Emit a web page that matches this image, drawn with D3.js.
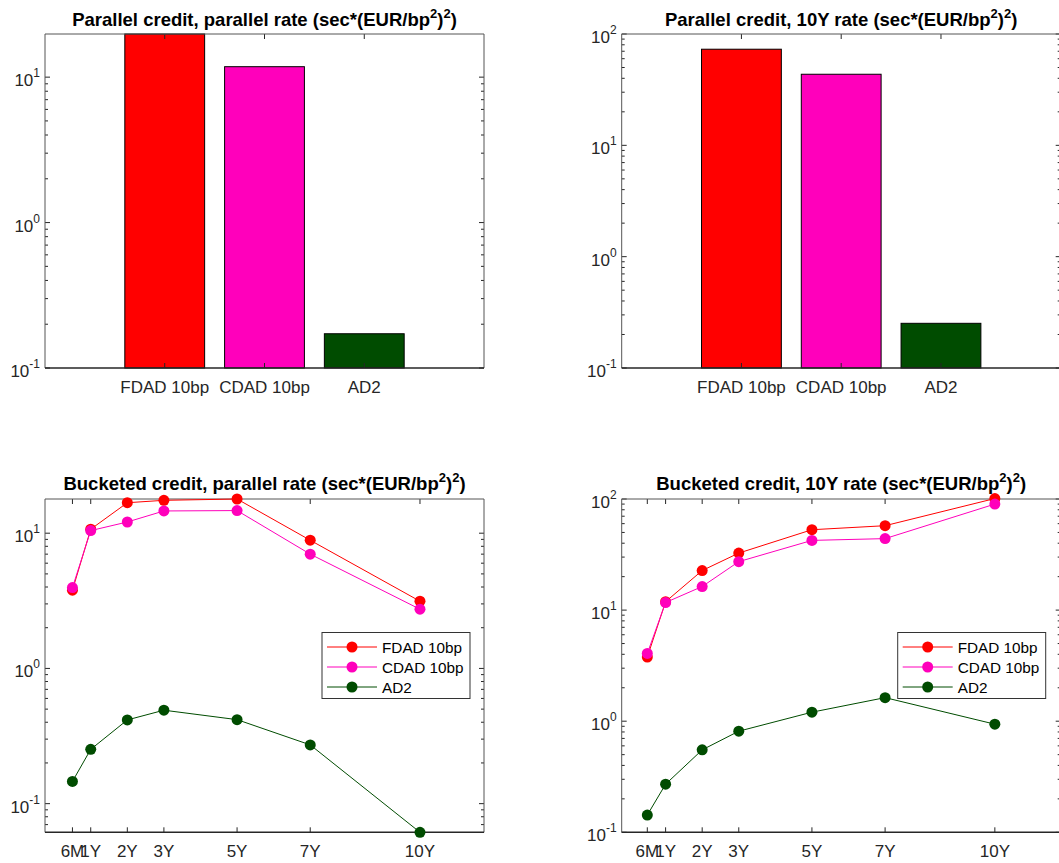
<!DOCTYPE html>
<html><head><meta charset="utf-8">
<script src="https://cdn.jsdelivr.net/npm/d3@7"></script>
<style>html,body{margin:0;padding:0;background:#fff;overflow:hidden}</style>
</head><body>
<svg id="chart" width="1059" height="863"></svg>
<script>
// ---------- data ----------
const barCategories = ["FDAD 10bp", "CDAD 10bp", "AD2"];
const barParallelRate = [19.8, 11.8, 0.172];
const bar10YRate = [73, 43.5, 0.252];

const tenors = [0.5, 1, 2, 3, 5, 7, 10];
const tenorLabels = ["6M", "1Y", "2Y", "3Y", "5Y", "7Y", "10Y"];
const seriesNames = ["FDAD 10bp", "CDAD 10bp", "AD2"];
const seriesColors = ["#ff0000", "#ff00bb", "#004c00"];

const bucketParallelFDAD = [3.79, 10.7, 16.8, 17.5, 17.9, 8.87, 3.14];
const bucketParallelCDAD = [3.96, 10.45, 12.1, 14.6, 14.7, 7.0, 2.74];
const bucketParallelAD2  = [0.146, 0.252, 0.416, 0.491, 0.418, 0.272, 0.0614];

const bucket10YFDAD = [3.78, 11.9, 22.7, 32.6, 52.9, 57.5, 101];
const bucket10YCDAD = [4.07, 11.7, 16.3, 27.3, 42.4, 44.0, 90];
const bucket10YAD2  = [0.143, 0.271, 0.552, 0.813, 1.205, 1.63, 0.94];

const titles = ["Parallel credit, parallel rate", "Parallel credit, 10Y rate",
                "Bucketed credit, parallel rate", "Bucketed credit, 10Y rate"];

// ---------- drawing ----------
const FONT = "'Liberation Sans', Arial, Helvetica, sans-serif";
const AXC = "#262626";
const svg = d3.select("#chart").style("font-family", FONT);

function title(g, cx, y, txt) {
  const t = g.append("text").attr("x", cx).attr("y", y).attr("text-anchor", "middle")
    .attr("font-weight", "bold").attr("font-size", 18.5).attr("fill", "#000");
  t.append("tspan").text(txt + " (sec*(EUR/bp");
  t.append("tspan").attr("font-size", 13).attr("dy", -8).text("2");
  t.append("tspan").attr("dy", 8).text(")");
  t.append("tspan").attr("font-size", 13).attr("dy", -8).text("2");
  t.append("tspan").attr("dy", 8).text(")");
}

function axes(g, x, y, xTicks, xLabels) {
  const [x0, x1] = x.range();
  const [y1, y0] = y.range(); // y1 bottom, y0 top
  const dom = y.domain();
  // log ticks
  const eMin = Math.floor(Math.log10(dom[0])), eMax = Math.ceil(Math.log10(dom[1]));
  for (let e = eMin; e <= eMax; e++) {
    for (let m = 1; m <= 9; m++) {
      const v = m * Math.pow(10, e);
      if (v < dom[0] * 0.999 || v > dom[1] * 1.001) continue;
      const yy = y(v);
      const len = m === 1 ? 5 : 3;
      g.append("line").attr("x1", x0).attr("x2", x0 + len).attr("y1", yy).attr("y2", yy)
        .attr("stroke", AXC).attr("stroke-width", 1);
      g.append("line").attr("x1", x1).attr("x2", x1 - len).attr("y1", yy).attr("y2", yy)
        .attr("stroke", AXC).attr("stroke-width", 1);
      if (m === 1) {
        const t = g.append("text").attr("x", x0 - 5).attr("y", yy + 9)
          .attr("text-anchor", "end").attr("font-size", 17).attr("fill", AXC);
        t.append("tspan").text("10");
        t.append("tspan").attr("font-size", 12).attr("dy", -9).text(String(e));
      }
    }
  }
  // x ticks
  xTicks.forEach((v, i) => {
    const xx = x(v);
    g.append("line").attr("x1", xx).attr("x2", xx).attr("y1", y1).attr("y2", y1 - 5)
      .attr("stroke", AXC).attr("stroke-width", 1);
    g.append("line").attr("x1", xx).attr("x2", xx).attr("y1", y0).attr("y2", y0 + 5)
      .attr("stroke", AXC).attr("stroke-width", 1);
    g.append("text").attr("x", xx).attr("y", y1 + 25).attr("text-anchor", "middle")
      .attr("font-size", 17).attr("fill", AXC).text(xLabels[i]);
  });
  // box
  g.append("line").attr("x1", x0).attr("x2", x1).attr("y1", y0).attr("y2", y0).attr("stroke", "#555").attr("stroke-width", 1);
  g.append("line").attr("x1", x0).attr("x2", x0).attr("y1", y0).attr("y2", y1).attr("stroke", "#555").attr("stroke-width", 1);
  g.append("line").attr("x1", x1).attr("x2", x1).attr("y1", y0).attr("y2", y1).attr("stroke", "#555").attr("stroke-width", 1);
  g.append("line").attr("x1", x0).attr("x2", x1).attr("y1", y1).attr("y2", y1).attr("stroke", AXC).attr("stroke-width", 1.6);
}

function barPanel(px, py, values, yDomain, ttl) {
  const g = svg.append("g");
  const x = d3.scaleLinear().domain([-0.2, 4.2]).range(px);
  const y = d3.scaleLog().domain(yDomain).range([py[1], py[0]]);
  g.selectAll("rect.bar").data(values).join("rect").attr("class", "bar")
    .attr("x", (d, i) => x(i + 1 - 0.4))
    .attr("width", (d, i) => x(i + 1 + 0.4) - x(i + 1 - 0.4))
    .attr("y", d => y(d))
    .attr("height", d => y(yDomain[0]) - y(d))
    .attr("fill", (d, i) => seriesColors[i])
    .attr("stroke", "#000").attr("stroke-width", 1);
  axes(g, x, y, [1, 2, 3], barCategories);
  title(g, (px[0] + px[1]) / 2, py[0] - 8, ttl);
}

function linePanel(px, py, xDomain, yDomain, series, ttl, legendX) {
  const g = svg.append("g");
  const x = d3.scaleLinear().domain(xDomain).range(px);
  const y = d3.scaleLog().domain(yDomain).range([py[1], py[0]]);
  axes(g, x, y, tenors, tenorLabels);
  const line = d3.line().x((d, i) => x(tenors[i])).y(d => y(d));
  series.forEach((vals, s) => {
    g.append("path").attr("d", line(vals)).attr("fill", "none")
      .attr("stroke", seriesColors[s]).attr("stroke-width", 1);
    g.selectAll(null).data(vals).join("circle")
      .attr("cx", (d, i) => x(tenors[i])).attr("cy", d => y(d)).attr("r", 5.5)
      .attr("fill", seriesColors[s]);
  });
  title(g, (px[0] + px[1]) / 2, py[0] - 9, ttl);
  // legend
  const lg = g.append("g").attr("transform", `translate(${legendX},632.5)`);
  lg.append("rect").attr("x", 0).attr("y", 0).attr("width", 148).attr("height", 66)
    .attr("fill", "#fff").attr("stroke", "#333").attr("stroke-width", 1);
  seriesNames.forEach((n, s) => {
    const yy = 14.5 + s * 20;
    lg.append("line").attr("x1", 5).attr("x2", 55).attr("y1", yy).attr("y2", yy)
      .attr("stroke", seriesColors[s]).attr("stroke-width", 1);
    lg.append("circle").attr("cx", 30).attr("cy", yy).attr("r", 5.5).attr("fill", seriesColors[s]);
    lg.append("text").attr("x", 60).attr("y", yy + 5.5).attr("font-size", 15.3)
      .attr("fill", "#000").text(n);
  });
}

barPanel([45, 484], [34, 368], barParallelRate, [0.1, 19.8], titles[0]);
barPanel([621.7, 1060.7], [34, 368], bar10YRate, [0.1, 100], titles[1]);
linePanel([45, 484], [499, 832.3], [-0.25, 11.75], [0.0614, 17.9],
  [bucketParallelFDAD, bucketParallelCDAD, bucketParallelAD2], titles[2], 322);
linePanel([621.7, 1060.7], [499, 832.3], [-0.2, 11.8], [0.1, 100],
  [bucket10YFDAD, bucket10YCDAD, bucket10YAD2], titles[3], 897.7);
</script>
</body></html>
